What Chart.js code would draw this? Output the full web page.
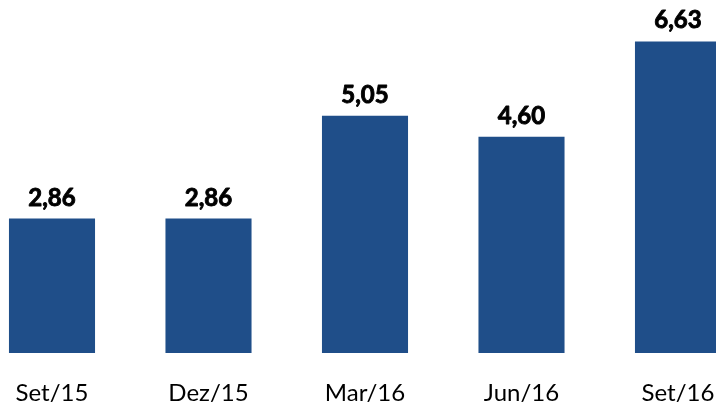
<!DOCTYPE html>
<html>
<head>
<meta charset="utf-8">
<script src="https://cdn.jsdelivr.net/npm/chart.js@4"></script>
<style>
html,body{margin:0;padding:0;background:#fff;overflow:hidden;width:716px;height:406px;}
#wrap{position:absolute;left:-40px;top:0;width:800px;height:406px;}
</style>
</head>
<body>
<div id="wrap"><canvas id="c" width="800" height="406"></canvas></div>
<script>
const categories = ["Set/15", "Dez/15", "Mar/16", "Jun/16", "Set/16"];
const values = [2.86, 2.86, 5.05, 4.60, 6.63];
const valueLabels = ["2,86", "2,86", "5,05", "4,60", "6,63"];

const labelPlugin = {
  id: 'valueLabels',
  afterDatasetsDraw(chart) {
    const ctx = chart.ctx;
    const meta = chart.getDatasetMeta(0);
    ctx.save();
    ctx.font = 'bold 24px Lato, "Open Sans", sans-serif';
    ctx.fillStyle = '#000';
    ctx.strokeStyle = '#000';
    ctx.lineWidth = 0.9;
    ctx.lineJoin = 'round';
    ctx.textAlign = 'center';
    ctx.textBaseline = 'alphabetic';
    meta.data.forEach((bar, i) => {
      ctx.fillText(valueLabels[i], bar.x, bar.y - 13);
      ctx.strokeText(valueLabels[i], bar.x, bar.y - 13);
    });
    ctx.restore();
  }
};

new Chart(document.getElementById('c'), {
  type: 'bar',
  data: {
    labels: categories,
    datasets: [{
      data: values,
      backgroundColor: '#1F4E89',
      barPercentage: 0.55,
      categoryPercentage: 1.0
    }]
  },
  options: {
    responsive: false,
    animation: false,
    layout: { padding: { left: 13.75, right: 3.75, top: 24, bottom: 0 } },
    plugins: { legend: { display: false }, tooltip: { enabled: false } },
    scales: {
      y: { display: false, min: 0, max: 7 },
      x: {
        grid: { display: false, drawTicks: false },
        border: { display: false },
        ticks: {
          color: '#000',
          font: { family: 'Lato, "Open Sans", sans-serif', size: 24 },
          padding: 26,
          maxRotation: 0,
          autoSkip: false
        },
        afterFit(scale) { scale.height = 53; }
      }
    }
  },
  plugins: [labelPlugin]
});
</script>
</body>
</html>
